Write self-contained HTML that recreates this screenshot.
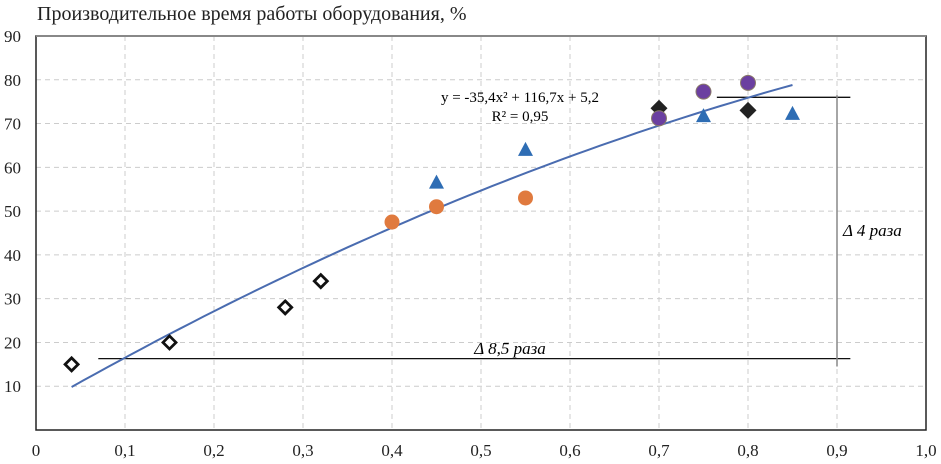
<!DOCTYPE html>
<html><head><meta charset="utf-8"><style>
body{margin:0;background:#fff}
svg{display:block;font-family:"Liberation Serif",serif}
</style></head><body>
<svg id="chart" width="941" height="464">
<text x="37" y="20" font-size="20" fill="#222">Производительное время работы оборудования, %</text>
<g id="grid"></g>
<g id="ticks"></g>
<rect x="36" y="36" width="890" height="394" fill="none" stroke="#222" stroke-width="1.5"/>
<line x1="36" y1="36" x2="926" y2="36" stroke="#888" stroke-width="2"/>
<g id="annot"></g>
<path id="trend" fill="none" stroke="#4a6cb0" stroke-width="2"/>
<g id="marks"></g>
<text x="520" y="102" font-size="15" text-anchor="middle">y = -35,4x² + 116,7x + 5,2</text>
<text x="520" y="121" font-size="15" text-anchor="middle">R² = 0,95</text>
<text x="510" y="354" font-size="17" font-style="italic" text-anchor="middle">Δ 8,5 раза</text>
<text x="843" y="236" font-size="17" font-style="italic">Δ 4 раза</text>
</svg>
<script>
const xTicks=[0,0.1,0.2,0.3,0.4,0.5,0.6,0.7,0.8,0.9,1.0];
const yTicks=[10,20,30,40,50,60,70,80,90];
const openDiamonds=[[0.04,15],[0.15,20],[0.28,28],[0.32,34]];
const orangeCircles=[[0.4,47.5],[0.45,51],[0.55,53]];
const blueTriangles=[[0.45,56.5],[0.55,64],[0.75,71.7],[0.85,72.2]];
const blackDiamonds=[[0.7,73.5],[0.8,73]];
const purpleCircles=[[0.7,71.2],[0.75,77.3],[0.8,79.3]];
const trendCoef=[-35.4,116.7,5.2];
const trendRange=[0.04,0.85];
const NS="http://www.w3.org/2000/svg";
const X=v=>36+v*890, Y=v=>430-v*(394/90);
function mk(t,a,p){const e=document.createElementNS(NS,t);for(const k in a)e.setAttribute(k,a[k]);document.getElementById(p).appendChild(e);return e;}
xTicks.forEach(v=>{
 if(v>0&&v<1){const l=mk('line',{x1:X(v),x2:X(v),y1:36,y2:430,stroke:'#ccc','stroke-dasharray':'5,4'},'grid');
 
 }
 const t=mk('text',{x:X(v),y:456,'font-size':17,'text-anchor':'middle',fill:'#222'},'ticks');t.textContent=v===0?'0':v.toFixed(1).replace('.',',');
 
 
});
yTicks.forEach(v=>{
 if(v<90){const l=mk('line',{x1:36,x2:926,y1:Y(v),y2:Y(v),stroke:'#ccc','stroke-dasharray':'5,4'},'grid');
 
 }
 const t=mk('text',{x:21,y:Y(v)+6,'font-size':17,'text-anchor':'end',fill:'#222'},'ticks');t.textContent=v;
 
 
});
let a=mk('line',{x1:X(0.07),x2:X(0.915),y1:Y(16.3),y2:Y(16.3),stroke:'#111','stroke-width':1.3},'annot');


a=mk('line',{x1:X(0.765),x2:X(0.915),y1:Y(76),y2:Y(76),stroke:'#111','stroke-width':1.3},'annot');


a=mk('line',{x1:X(0.9),x2:X(0.9),y1:Y(76.5),y2:Y(14.5),stroke:'#888','stroke-width':1.5},'annot');


let d='';for(let i=0;i<=60;i++){const x=trendRange[0]+(trendRange[1]-trendRange[0])*i/60;const y=trendCoef[0]*x*x+trendCoef[1]*x+trendCoef[2];d+=(i?'L':'M')+X(x).toFixed(1)+','+Y(y).toFixed(1);}
document.getElementById('trend').setAttribute('d',d);
function diamond(x,y,s){return `M${x},${y-s}L${x+s},${y}L${x},${y+s}L${x-s},${y}Z`;}
openDiamonds.forEach(p=>{const e=mk('path',{d:diamond(X(p[0]),Y(p[1]),6.5),fill:'#fff',stroke:'#111','stroke-width':2.8},'marks');
 
 });
orangeCircles.forEach(p=>{const e=mk('circle',{cx:X(p[0]),cy:Y(p[1]),r:7.5,fill:'#e07a3e'},'marks');
 
 });
blueTriangles.forEach(p=>{const x=X(p[0]),y=Y(p[1]);const e=mk('path',{d:`M${x},${y-8}L${x+7.5},${y+6}L${x-7.5},${y+6}Z`,fill:'#2e6db4'},'marks');
 
 });
blackDiamonds.forEach(p=>{const e=mk('path',{d:diamond(X(p[0]),Y(p[1]),8.5),fill:'#222'},'marks');
 
 });
purpleCircles.forEach(p=>{const e=mk('circle',{cx:X(p[0]),cy:Y(p[1]),r:7.5,fill:'#6b3fa0',stroke:'#8a7a6a','stroke-width':1},'marks');
 
 });
</script>
</body></html>
